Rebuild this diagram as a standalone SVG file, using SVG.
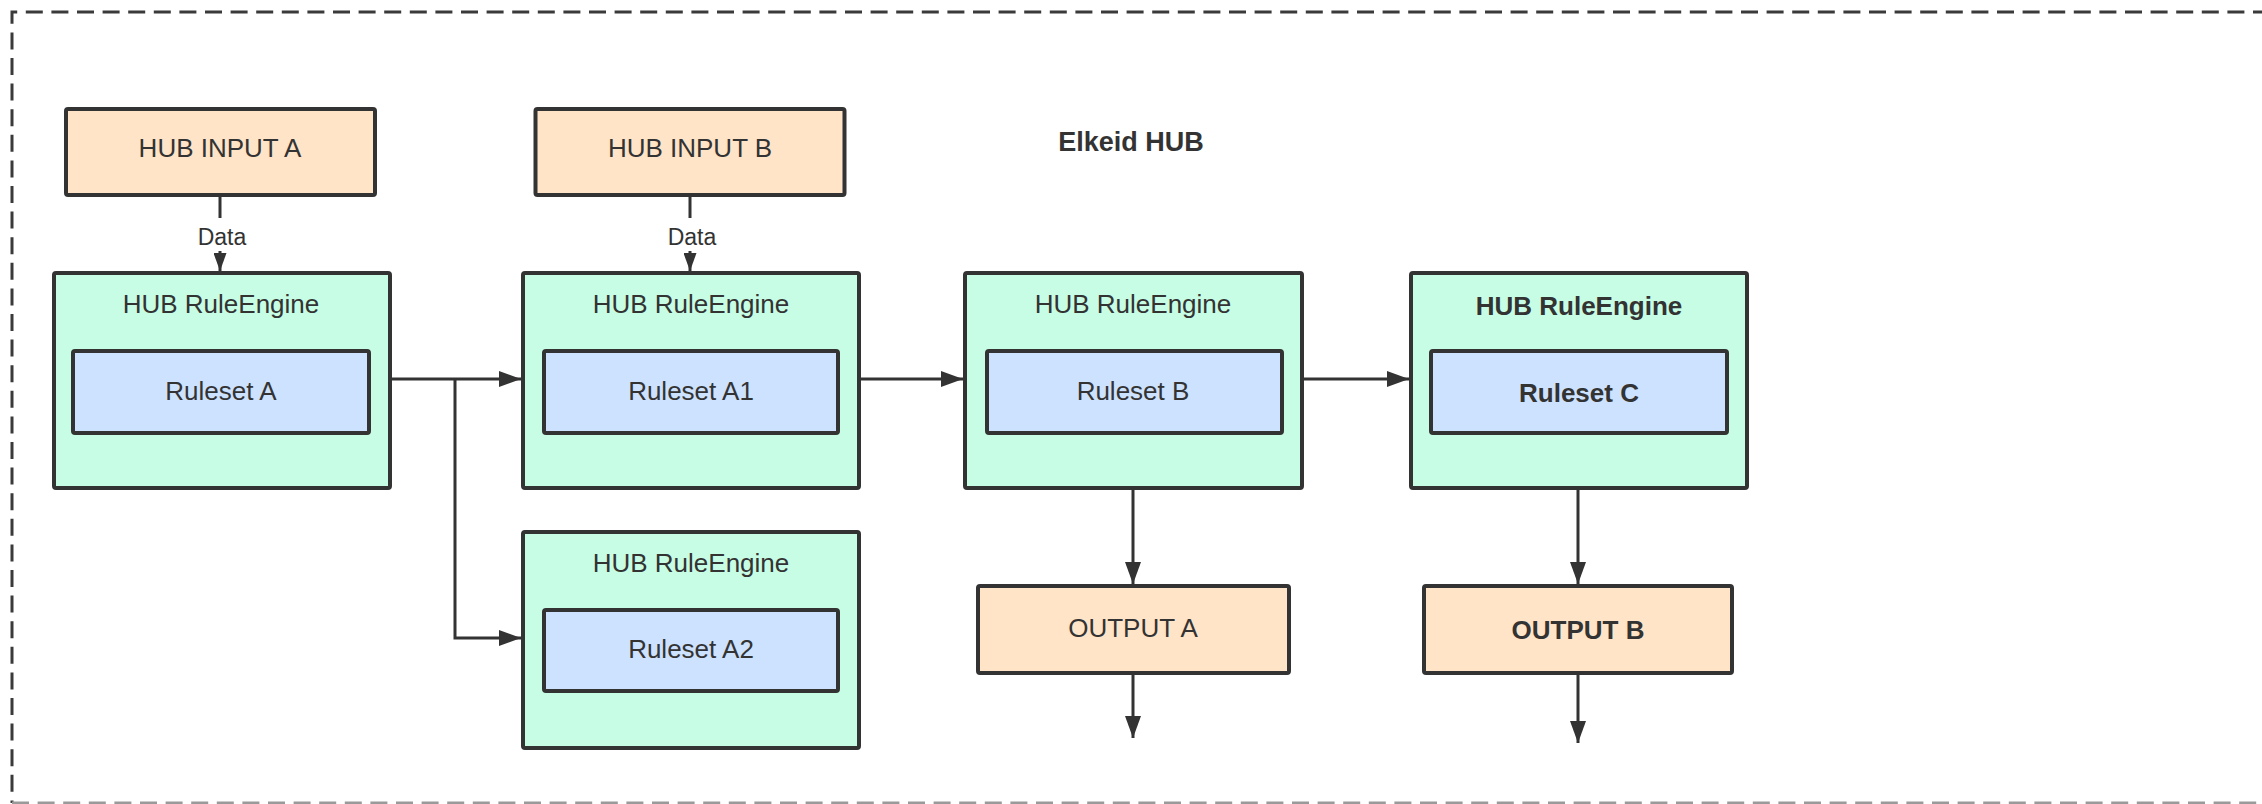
<svg xmlns="http://www.w3.org/2000/svg" width="2262" height="804" viewBox="0 0 2262 804">
  <style>
    text { font-family: "Liberation Sans", Arial, "Noto Sans", sans-serif; fill: #333333; text-anchor: middle; }
    .lbl { font-size: 26px; }
    .bold { font-weight: bold; }
    .data { font-size: 23px; }
    .io { fill: #FFE4C8; stroke: #333333; stroke-width: 4; }
    .engine { fill: #C7FDE4; stroke: #333333; stroke-width: 4; }
    .ruleset { fill: #CDE2FE; stroke: #333333; stroke-width: 4; }
    .edge { fill: none; stroke: #333333; stroke-width: 3; }
    .frame { fill: none; stroke: #3a3a3a; stroke-width: 3; stroke-dasharray: 17 8.6; }
    .frame-bottom { fill: none; stroke: #9a9a9a; stroke-width: 3; stroke-dasharray: 17 8.6; }
  </style>
  <defs>
    <marker id="arrow" markerUnits="userSpaceOnUse" markerWidth="22" markerHeight="16" refX="22" refY="8" orient="auto">
      <path d="M0,0 L22,8 L0,16 Z" fill="#333333"/>
    </marker>
    <marker id="arrow-s" markerUnits="userSpaceOnUse" markerWidth="18" markerHeight="13" refX="18" refY="6.5" orient="auto">
      <path d="M0,0 L18,6.5 L0,13 Z" fill="#333333"/>
    </marker>
  </defs>

  <rect width="2262" height="804" fill="#ffffff"/>

  <!-- outer dashed boundary of the hub (open on the right) -->
  <path class="frame" d="M2270,12 H12 V803"/>
  <path class="frame-bottom" d="M12,803 H2270"/>

  <g id="title">
    <text class="bold" x="1131" y="151" font-size="27">Elkeid HUB</text>
  </g>

  <g id="input-a">
    <rect class="io" x="66" y="109" width="309" height="86" rx="2"/>
    <text class="lbl" x="220" y="157">HUB INPUT A</text>
  </g>

  <g id="input-b">
    <rect class="io" x="535.5" y="109" width="309" height="86" rx="2"/>
    <text class="lbl" x="690" y="157">HUB INPUT B</text>
  </g>

  <g id="engine-a">
    <rect class="engine" x="54" y="273" width="336" height="215" rx="2"/>
    <text class="lbl" x="221" y="313">HUB RuleEngine</text>
    <rect class="ruleset" x="73" y="351" width="296" height="82" rx="2"/>
    <text class="lbl" x="221" y="400">Ruleset A</text>
  </g>

  <g id="engine-a1">
    <rect class="engine" x="523" y="273" width="336" height="215" rx="2"/>
    <text class="lbl" x="691" y="313">HUB RuleEngine</text>
    <rect class="ruleset" x="544" y="351" width="294" height="82" rx="2"/>
    <text class="lbl" x="691" y="400">Ruleset A1</text>
  </g>

  <g id="engine-a2">
    <rect class="engine" x="523" y="532" width="336" height="216" rx="2"/>
    <text class="lbl" x="691" y="572">HUB RuleEngine</text>
    <rect class="ruleset" x="544" y="610" width="294" height="81" rx="2"/>
    <text class="lbl" x="691" y="658">Ruleset A2</text>
  </g>

  <g id="engine-b">
    <rect class="engine" x="965" y="273" width="337" height="215" rx="2"/>
    <text class="lbl" x="1133" y="313">HUB RuleEngine</text>
    <rect class="ruleset" x="987" y="351" width="295" height="82" rx="2"/>
    <text class="lbl" x="1133" y="400">Ruleset B</text>
  </g>

  <g id="engine-c">
    <rect class="engine" x="1411" y="273" width="336" height="215" rx="2"/>
    <text class="lbl bold" x="1579" y="315">HUB RuleEngine</text>
    <rect class="ruleset" x="1431" y="351" width="296" height="82" rx="2"/>
    <text class="lbl bold" x="1579" y="402">Ruleset C</text>
  </g>

  <g id="output-a">
    <rect class="io" x="978" y="586" width="311" height="87" rx="2"/>
    <text class="lbl" x="1133" y="637">OUTPUT A</text>
  </g>

  <g id="output-b">
    <rect class="io" x="1424" y="586" width="308" height="87" rx="2"/>
    <text class="lbl bold" x="1578" y="639">OUTPUT B</text>
  </g>

  <g id="connectors">
    <!-- inputs feeding the first engines, labelled "Data" -->
    <path class="edge" d="M220,197 V218"/>
    <path class="edge" d="M220,251 V271" marker-end="url(#arrow-s)"/>
    <text class="data" x="222" y="245">Data</text>
    <path class="edge" d="M690,197 V218"/>
    <path class="edge" d="M690,251 V271" marker-end="url(#arrow-s)"/>
    <text class="data" x="692" y="245">Data</text>

    <!-- engine chain -->
    <path class="edge" d="M392,379 H521" marker-end="url(#arrow)"/>
    <path class="edge" d="M455,379 V638 H521" marker-end="url(#arrow)"/>
    <path class="edge" d="M861,379 H963" marker-end="url(#arrow)"/>
    <path class="edge" d="M1304,379 H1409" marker-end="url(#arrow)"/>

    <!-- outputs -->
    <path class="edge" d="M1133,490 V584" marker-end="url(#arrow)"/>
    <path class="edge" d="M1133,675 V738" marker-end="url(#arrow)"/>
    <path class="edge" d="M1578,490 V584" marker-end="url(#arrow)"/>
    <path class="edge" d="M1578,675 V743" marker-end="url(#arrow)"/>
  </g>
</svg>
